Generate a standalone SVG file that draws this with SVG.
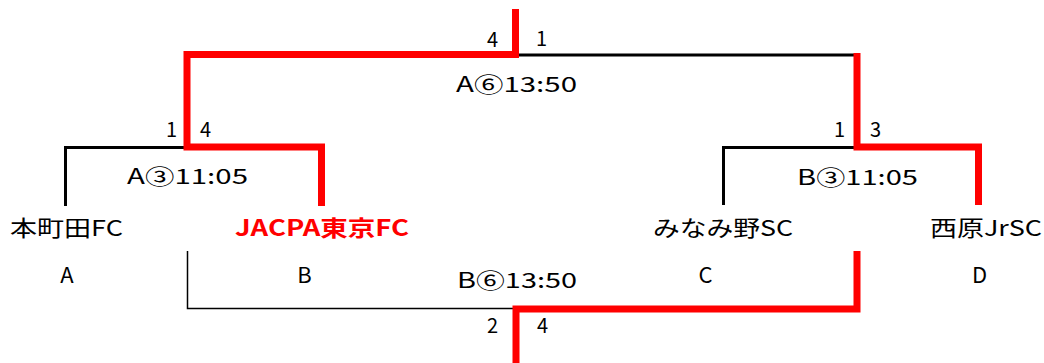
<svg xmlns="http://www.w3.org/2000/svg" width="1044" height="363" viewBox="0 0 1044 363">
<style>
  .t{font-family:"Noto Sans CJK JP","Noto Sans",sans-serif;fill:#000}
  .team{font-size:22px}
  .win{fill:#ff0000;font-weight:bold}
  .lbl{font-size:21px}
  .sc{font-size:20px}
  .ltr{font-size:22px;text-anchor:middle}
  .blk{fill:none;stroke:#000;stroke-width:3;stroke-linejoin:miter}
  .thin{fill:none;stroke:#000;stroke-width:1.5}
  .red{fill:none;stroke:#ff0000;stroke-width:7;stroke-linejoin:miter;stroke-linecap:butt}
</style>
<rect width="1044" height="363" fill="#fff"/>
<g id="connectors">
  <path class="blk" d="M187,147.5 H65.5 V206"/>
  <path class="blk" d="M516,55 H857"/>
  <path class="blk" d="M857,147.5 H723.5 V205"/>
  <path class="thin" d="M187.5,251 V308.5 H516"/>
  <path class="red" d="M515.5,9 V54.5 H187 V147 H321.5 V206"/>
  <path class="red" d="M857,53 V147 H978.5 V205"/>
  <path class="red" d="M857,251 V309 H516 V363"/>
</g>
<g id="team-A">
  <text class="t team" x="10" y="236" textLength="113" lengthAdjust="spacingAndGlyphs">本町田FC</text>
  <text class="t ltr" x="67" y="283">A</text>
</g>
<g id="team-B">
  <text class="t team win" x="235" y="236" textLength="174" lengthAdjust="spacingAndGlyphs">JACPA東京FC</text>
  <text class="t ltr" x="304.5" y="283">B</text>
</g>
<g id="team-C">
  <text class="t team" x="653" y="236" textLength="140" lengthAdjust="spacingAndGlyphs">みなみ野SC</text>
  <text class="t ltr" x="705.5" y="283">C</text>
</g>
<g id="team-D">
  <text class="t team" x="930" y="236" textLength="112" lengthAdjust="spacingAndGlyphs">西原JrSC</text>
  <text class="t ltr" x="979.5" y="283">D</text>
</g>
<g id="match-A3">
  <text class="t lbl" x="127" y="184" textLength="121" lengthAdjust="spacingAndGlyphs">A③11:05</text>
  <text class="t sc" x="166" y="137">1</text>
  <text class="t sc" x="200" y="137">4</text>
</g>
<g id="match-B3">
  <text class="t lbl" x="797" y="185" textLength="121" lengthAdjust="spacingAndGlyphs">B③11:05</text>
  <text class="t sc" x="834" y="137">1</text>
  <text class="t sc" x="870" y="137">3</text>
</g>
<g id="match-A6">
  <text class="t lbl" x="456" y="92" textLength="121" lengthAdjust="spacingAndGlyphs">A⑥13:50</text>
  <text class="t sc" x="487" y="47">4</text>
  <text class="t sc" x="536" y="46">1</text>
</g>
<g id="match-B6">
  <text class="t lbl" x="457" y="288" textLength="120" lengthAdjust="spacingAndGlyphs">B⑥13:50</text>
  <text class="t sc" x="487" y="333">2</text>
  <text class="t sc" x="537" y="333">4</text>
</g>
</svg>
